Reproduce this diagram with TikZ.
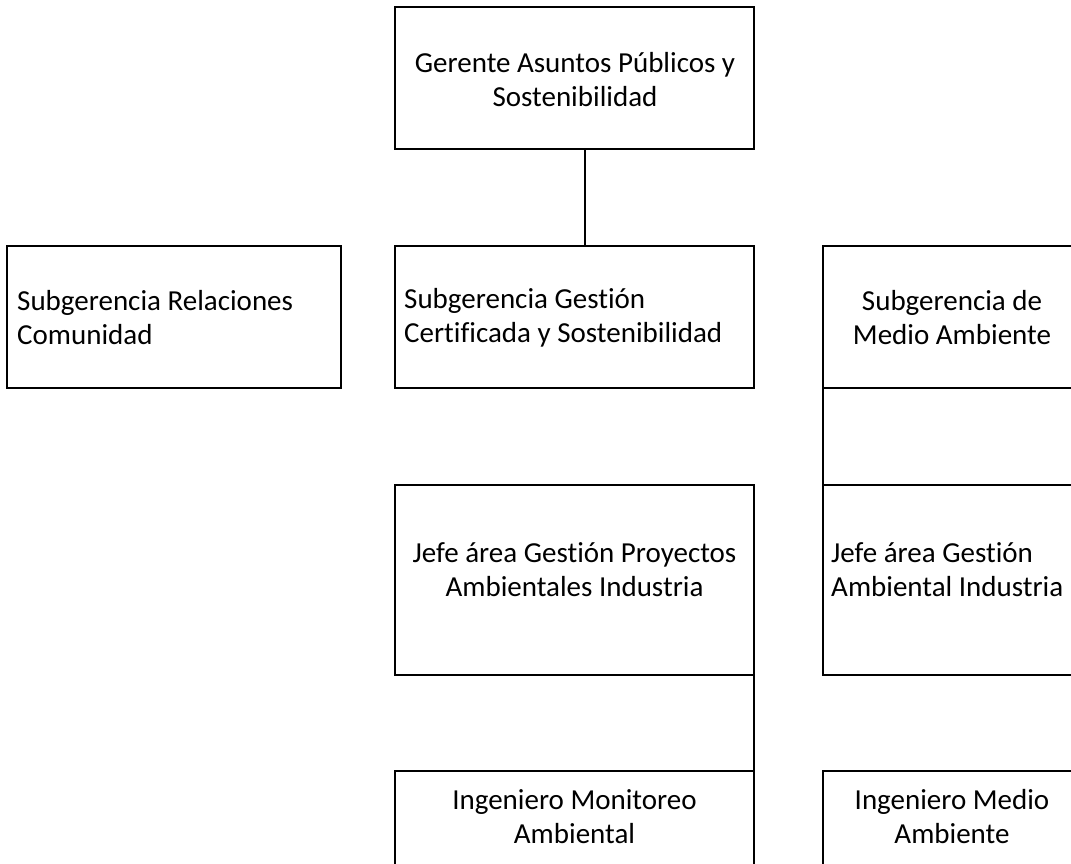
\documentclass[tikz,border=0pt]{standalone}
\usepackage{fontspec}
\setmainfont{Carlito}[Ligatures=CommonOff]
\begin{document}
\begin{tikzpicture}[x=1pt,y=-1pt,
  box/.style={draw=black, line width=1.6pt, rectangle, inner sep=0pt, outer sep=0pt},
  txt/.style={inner sep=0pt, font=\fontsize{29}{34}\selectfont, text=black},
  conn/.style={draw=black, line width=1.6pt}]
\useasboundingbox (0,0) rectangle (1071,864);
\fill[white] (0,0) rectangle (1071,864);
% boxes
\node[box, minimum width=359pt, minimum height=142pt] (top) at (574.5,78) {};
\node[box, minimum width=334pt, minimum height=142pt] (sub1) at (174,317) {};
\node[box, minimum width=359pt, minimum height=142pt] (sub2) at (574.5,317) {};
\node[box, minimum width=258pt, minimum height=142pt] (sub3) at (952,317) {};
\node[box, minimum width=359pt, minimum height=190pt] (jefe1) at (574.5,580) {};
\node[box, minimum width=258pt, minimum height=190pt] (jefe2) at (952,580) {};
\node[box, minimum width=359pt, minimum height=190pt] (ing1) at (574.5,866) {};
\node[box, minimum width=258pt, minimum height=190pt] (ing2) at (952,866) {};
% texts
\node[txt, align=center] (toptxt) at (575,80) {Gerente Asuntos Públicos y\\Sostenibilidad};
\node[txt, align=left, anchor=west] (sub1txt) at (17,318) {Subgerencia Relaciones\\Comunidad};
\node[txt, align=left, anchor=west] (sub2txt) at (404,318) {Subgerencia Gestión\\Certificada y Sostenibilidad};
\node[txt, align=center] (sub3txt) at (952,318) {Subgerencia de\\Medio Ambiente};
\node[txt, align=center] (jefe1txt) at (574.5,570) {Jefe área Gestión Proyectos\\Ambientales Industria};
\node[txt, align=left, anchor=west] (jefe2txt) at (831,570) {Jefe área Gestión\\Ambiental Industria};
\node[txt, align=center] (ing1txt) at (574.5,817) {Ingeniero Monitoreo\\Ambiental};
\node[txt, align=center] (ing2txt) at (952,817) {Ingeniero Medio\\Ambiente};
% connectors
\coordinate (c1) at (585,0);
\draw[conn] (c1 |- top.south) -- (c1 |- sub2.north);
\draw[conn] (sub3.south west) -- (jefe2.north west);
\draw[conn] (jefe1.south east) -- (ing1.north east);
\end{tikzpicture}
\end{document}
